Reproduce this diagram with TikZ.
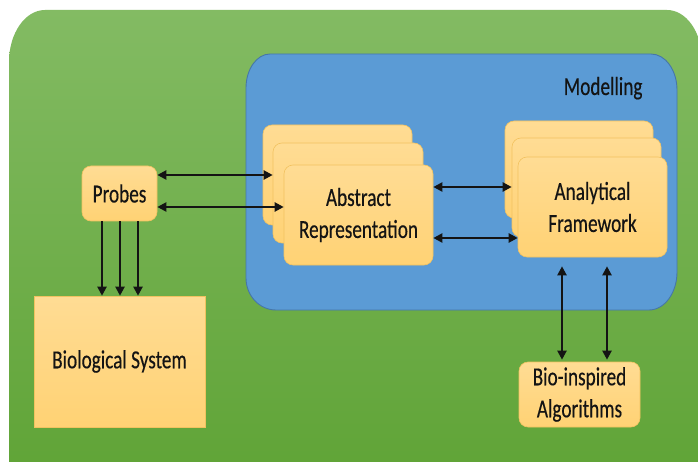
\documentclass[tikz,border=0pt]{standalone}
\usepackage{fontspec}
\setmainfont{Carlito}[FakeStretch=0.74, FakeBold=0.35]
\usetikzlibrary{arrows.meta}
\definecolor{greenT}{HTML}{83BB63}
\definecolor{greenB}{HTML}{60A437}
\definecolor{blueF}{HTML}{5B9BD5}
\definecolor{blueD}{HTML}{4677A8}
\definecolor{boxT}{HTML}{FFDC94}
\definecolor{boxB}{HTML}{FFD274}
\definecolor{boxD}{HTML}{F2C260}
\definecolor{ink}{HTML}{141414}
\tikzset{
  card/.style={draw=boxD, line width=0.6pt, top color=boxT, bottom color=boxB,
    rounded corners=9pt, inner sep=0pt, text=ink, align=center,
    font=\fontsize{26}{32}\selectfont},
  plain/.style={card, rounded corners=0pt},
  apex/.tip={Triangle[length=9pt,width=9pt]},
  oneway/.style={ink, line width=2.1pt, -apex},
  twoway/.style={ink, line width=2.1pt, apex-apex},
}
\begin{document}
\begin{tikzpicture}[x=1pt,y=-1pt]
\useasboundingbox (0,0) rectangle (698,462);
\fill[white] (0,0) rectangle (698,462);

% outer green panel with elliptical corners
\path[top color=greenT, bottom color=greenB]
  (9,470) -- (9,62)
  arc[start angle=180, end angle=90, x radius=36, y radius=-52]
  -- (667,10)
  arc[start angle=90, end angle=0, x radius=35, y radius=-50]
  -- (702,470) -- cycle;

% blue modelling region
\path[fill=blueF, draw=blueD, line width=0.9pt]
  (246,88) arc[start angle=180, end angle=90, x radius=24, y radius=-34]
  -- (651,54) arc[start angle=90, end angle=0, x radius=26, y radius=-36]
  -- (677,272) arc[start angle=0, end angle=-90, x radius=28, y radius=-38]
  -- (276,310) arc[start angle=270, end angle=180, x radius=30, y radius=-32]
  -- cycle;
\node[anchor=base east, text=ink, font=\fontsize{26}{32}\selectfont] (modlabel) at (646,95) {Modelling};

% probes and the biological system
\node[card, minimum width=75pt, minimum height=55pt] (probes) at (119.5,193.5) {Probes};
\node[plain, minimum width=171pt, minimum height=131pt] (bio) at (119.5,361.5) {Biological System};

% abstract representation stack
\node[card, minimum width=149pt, minimum height=100pt] (arB) at (337.5,175) {};
\node[card, minimum width=150pt, minimum height=100pt] (arM) at (348,193) {};
\node[card, minimum width=149pt, minimum height=100pt] (arF) at (358.5,215) {Abstract\\Representation};

% analytical framework stack
\node[card, minimum width=148pt, minimum height=97pt] (afB) at (579,169.5) {};
\node[card, minimum width=149pt, minimum height=99pt] (afM) at (586.5,187.5) {};
\node[card, minimum width=149pt, minimum height=100pt] (afF) at (592.5,207) {Analytical\\Framework};

% bio-inspired algorithms
\node[card, minimum width=121pt, minimum height=65pt] (bioalg) at (579.5,394.5) {Bio-inspired\\Algorithms};

% connectors
\draw[twoway] (probes.east |- 0,175) -- (arM.west |- 0,175);
\draw[twoway] (probes.east |- 0,207) -- (arF.west |- 0,207);
\foreach \xx in {102,120,138}
  \draw[oneway] (probes.south -| \xx,0) -- (bio.north -| \xx,0);
\draw[twoway] (arF.east |- 0,187) -- (afM.west |- 0,187);
\draw[twoway] (arF.east |- 0,238) -- (afF.west |- 0,238);
\foreach \xx in {562,607}
  \draw[twoway, shorten <=9pt, shorten >=2pt] (afF.south -| \xx,0) -- (bioalg.north -| \xx,0);
\end{tikzpicture}
\end{document}
